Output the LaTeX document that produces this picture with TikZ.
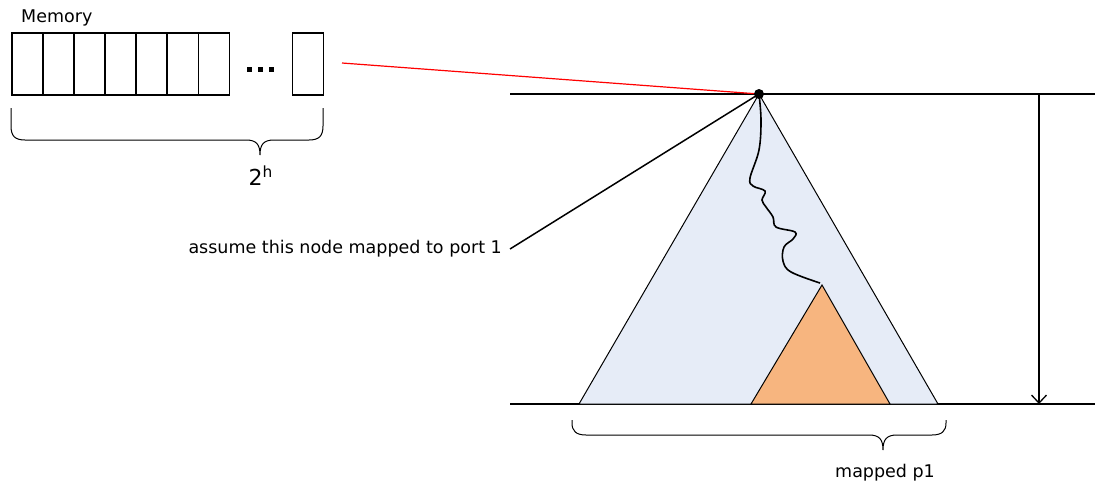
\documentclass[tikz,border=0pt]{standalone}
\usepackage{fontspec}
\setmainfont{DejaVu Sans}
\usetikzlibrary{arrows.meta}
\definecolor{treeblue}{HTML}{E6ECF7}
\definecolor{subtree}{HTML}{F7B57F}
\tikzset{
  cell/.style={draw, line width=1.5pt, minimum width=31pt, minimum height=62pt, inner sep=0pt, anchor=north west},
  rail/.style={line width=1.6pt},
  edge/.style={line width=1.3pt},
  brace/.style={line width=1pt},
  label/.style={font=\fontsize{17.5}{20}\selectfont, inner sep=0pt},
  dot/.style={fill=black, minimum size=5.5pt, inner sep=0pt, anchor=center}
}
\begin{document}
\begin{tikzpicture}[x=1pt, y=-1pt]
\useasboundingbox (0,0) rectangle (1095,482);

% memory array
\node[label, anchor=base west] (memlabel) at (21,22) {Memory};
\foreach \i in {0,...,6} {
  \node[cell] (c\i) at ({11+31.1*\i},32) {};
}
\node[cell] (clast) at (291.5,32) {};
\foreach \k in {0,1,2} {
  \node[dot] (d\k) at ({249.5+11*\k},69.5) {};
}
\draw[brace] (11,108) -- (11,126) .. controls (11,136) and (15,140) .. (25,140)
  -- (246,140) .. controls (256,140) and (260,144) .. (260,155)
  .. controls (260,144) and (264,140) .. (274,140)
  -- (309,140) .. controls (319,140) and (323,136) .. (323,126) -- (323,108);
\node[font=\fontsize{22}{24}\selectfont, inner sep=0pt, anchor=base west] (size) at (248.5,185) {2\textsuperscript{h}};

% levels
\coordinate (topL) at (510,94);
\coordinate (topR) at (1095,94);
\coordinate (botL) at (510,404);
\coordinate (botR) at (1095,404);
\draw[rail] (topL) -- (topR);
\draw[rail] (botL) -- (botR);

% tree and subtree
\coordinate (root) at (759,94);
\coordinate (baseL) at (579,404);
\coordinate (baseR) at (938,404);
\coordinate (sub) at (822,285);
\coordinate (subL) at (751,404);
\coordinate (subR) at (890,404);
\filldraw[fill=treeblue, draw=black, line width=1pt] (root) -- (baseL) -- (baseR) -- cycle;
\filldraw[fill=subtree, draw=black, line width=1pt] (sub) -- (subL) -- (subR) -- cycle;

% path from root to subtree
\draw[line width=1.6pt] plot[smooth, tension=0.6] coordinates {
  (759,94) (761,120) (759,150) (750,178) (753,186) (765,191) (762,200)
  (766,207) (773,217) (776,227) (795,232) (793,239) (784,247)
  (783,261) (791,272) (820,283)};

% memory pointer
\coordinate (memend) at (342,63);
\draw[red, line width=1.2pt] (memend) -- (root);

% annotation
\node[label, anchor=base east] (note) at (502,253) {assume this node mapped to port 1};
\coordinate (noteend) at (510,249);
\draw[edge, line width=1.5pt] (noteend) -- (root);
\fill (root) circle (5pt);

% height arrow
\coordinate (hTop) at (1039,94);
\coordinate (hBot) at (1039,404);
\draw[edge, -{Straight Barb[length=8pt, width=15pt]}] (hTop) -- (hBot);

% bottom brace
\draw[brace] (572,420) -- (572,423) .. controls (572,431) and (576,435) .. (586,435)
  -- (869,435) .. controls (879,435) and (883,439) .. (883,450)
  .. controls (883,439) and (887,435) .. (897,435)
  -- (932,435) .. controls (942,435) and (946,431) .. (946,423) -- (946,420);
\node[label, anchor=base west] (mapped) at (835,477) {mapped p1};
\end{tikzpicture}
\end{document}
